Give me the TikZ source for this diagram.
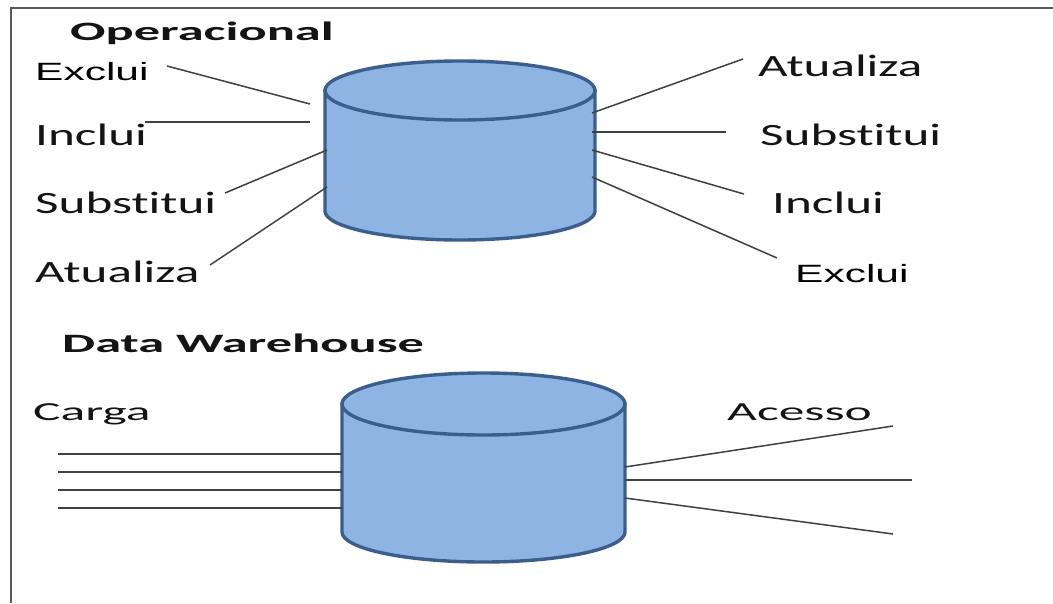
\documentclass[tikz,border=0pt]{standalone}
\usepackage{fontspec}
\usepackage{tikz}
\usetikzlibrary{positioning}

\newfontfamily\labelfont[FakeStretch=1.65,Ligatures=NoCommon]{Carlito}
\newfontfamily\arialfont[FakeStretch=1.7]{Liberation Sans}
\newfontfamily\headfont[FakeStretch=1.98,Ligatures=NoCommon]{Carlito}

\definecolor{cylfill}{HTML}{8EB4E3}
\definecolor{cylline}{HTML}{3B5E8C}
\definecolor{wire}{HTML}{404040}
\definecolor{ink}{HTML}{141414}

\tikzset{
  cyl/.style={fill=cylfill,draw=cylline,line width=3.4pt},
  wire/.style={draw=wire,line width=1.5pt},
  frame/.style={draw=black!65,line width=2.5pt},
  lbl/.style={inner sep=0pt,anchor=base west,text=ink,font=\labelfont\fontsize{31}{31}\selectfont},
  albl/.style={inner sep=0pt,anchor=base west,text=black,font=\arialfont\fontsize{25}{25}\selectfont},
  head/.style={inner sep=0pt,anchor=base west,text=ink,font=\headfont\bfseries\fontsize{26.5}{26.5}\selectfont},
  dwlbl/.style={inner sep=0pt,anchor=base west,text=ink,font=\headfont\fontsize{26}{26}\selectfont}
}

\begin{document}
\begin{tikzpicture}[x=1pt,y=-1pt]
        \useasboundingbox (0,0) rectangle (1053,603);
        \fill[white] (0,0) rectangle (1053,603);
        \draw[frame] (11,603) -- (11,8) -- (1053,8);

        % operacional
        \node[head] (ophead) at (70,40) {Operacional};
        \path[cyl] (325,90.5) -- (325,211)
          arc[start angle=180,end angle=0,x radius=135,y radius=29] -- (595,90.5) -- cycle;
        \path[cyl] (460,90.5) ellipse[x radius=135,y radius=29.5];

        \node[albl] (exL) at (35,80) {Exclui};
        \node[lbl] (inL) at (35,145) {Inclui};
        \node[lbl] (suL) at (35,213) {Substitui};
        \node[lbl] (atL) at (35,282) {Atualiza};
        \node[lbl] (atR) at (758,76) {Atualiza};
        \node[lbl] (suR) at (760,145) {Substitui};
        \node[lbl] (inR) at (772,213) {Inclui};
        \node[albl] (exR) at (795,282) {Exclui};

        \foreach \n/\ax/\ay/\bx/\by in {%
          exL/167/66/310/104,
          inL/145/122/310/122,
          suL/225/193/327/150,
          atL/210/265/327/187,
          atR/743/59/592/113,
          suR/726/132/592/132,
          inR/744/194/592/150,
          exR/777/258/592/177} {
            \coordinate (\n a) at (\ax,\ay);
            \coordinate (\n b) at (\bx,\by);
            \draw[wire] (\n a) -- (\n b);
        }

        % data warehouse
        \node[head] (dwhead) at (62,352) {Data Warehouse};
        \path[cyl] (342,404) -- (342,532)
          arc[start angle=180,end angle=0,x radius=141.5,y radius=30] -- (625,404) -- cycle;
        \path[cyl] (483.5,404) ellipse[x radius=141.5,y radius=31];

        \node[dwlbl] (carga) at (33,420) {Carga};
        \node[dwlbl] (acesso) at (727,420) {Acesso};

        \foreach \i/\y in {1/454,2/472,3/490,4/508} {
          \coordinate (cg\i) at (58,\y);
          \coordinate (dwL\i) at (342,\y);
          \draw[wire] (cg\i) -- (dwL\i);
        }
        \foreach \i/\ay/\bx/\by in {1/467/893/426, 2/480/912/480, 3/498/893/534} {
          \coordinate (dwR\i) at (625,\ay);
          \coordinate (ac\i) at (\bx,\by);
          \draw[wire] (dwR\i) -- (ac\i);
        }
\end{tikzpicture}
\end{document}
